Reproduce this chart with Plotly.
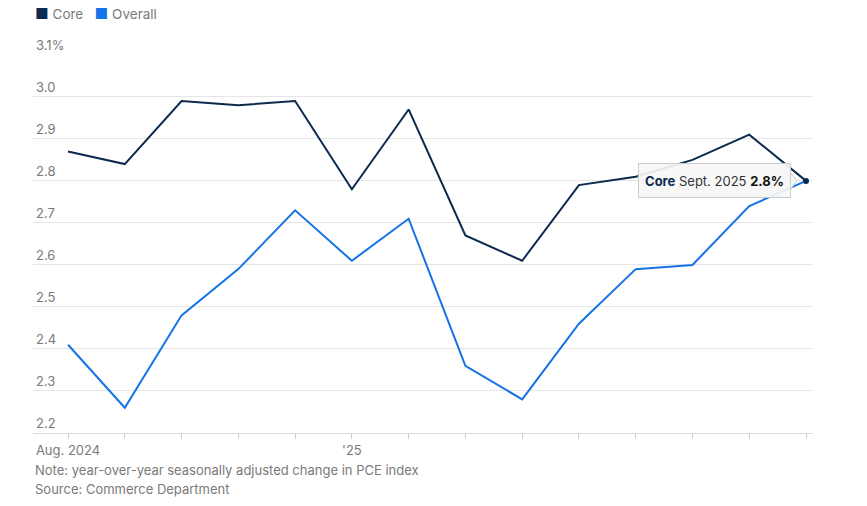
import plotly.graph_objects as go

months = ["Aug. 2024", "Sept. 2024", "Oct. 2024", "Nov. 2024", "Dec. 2024", "Jan. 2025", "Feb. 2025",
          "Mar. 2025", "Apr. 2025", "May 2025", "June 2025", "July 2025", "Aug. 2025", "Sept. 2025"]
core = [2.87, 2.84, 2.99, 2.98, 2.99, 2.78, 2.97, 2.67, 2.61, 2.79, 2.81, 2.85, 2.91, 2.80]
overall = [2.41, 2.26, 2.48, 2.59, 2.73, 2.61, 2.71, 2.36, 2.28, 2.46, 2.59, 2.60, 2.74, 2.80]
x_tick_labels = ["Aug. 2024", "", "", "", "", "'25", "", "", "", "", "", "", "", ""]
y_ticks = [2.2, 2.3, 2.4, 2.5, 2.6, 2.7, 2.8, 2.9, 3.0, 3.1]
y_tick_labels = ["2.2", "2.3", "2.4", "2.5", "2.6", "2.7", "2.8", "2.9", "3.0", "3.1%"]

CORE_C = "#0b2a4e"
OVER_C = "#1473e6"
GRAY = "#7a7a7a"
FONT = "Inter"

xs = list(range(len(months)))
fig = go.Figure()
fig.add_trace(go.Scatter(x=xs, y=overall, mode="lines", name="Overall",
                         line=dict(color=OVER_C, width=2), customdata=months,
                         hovertemplate="Overall %{customdata} %{y}%<extra></extra>"))
fig.add_trace(go.Scatter(x=xs, y=core, mode="lines", name="Core",
                         line=dict(color=CORE_C, width=2), customdata=months,
                         hovertemplate="Core %{customdata} %{y}%<extra></extra>"))
fig.add_trace(go.Scatter(x=[xs[-1]], y=[core[-1]], mode="markers", showlegend=False,
                         marker=dict(color=CORE_C, size=6), hoverinfo="skip"))

fig.update_layout(
    width=867, height=506,
    margin=dict(l=33, r=54, t=54, b=73),
    paper_bgcolor="white", plot_bgcolor="white",
    showlegend=False,
    font=dict(family=FONT, size=13, color=GRAY),
    xaxis=dict(range=[-0.617, 13.123], tickmode="array", tickvals=xs, ticktext=x_tick_labels,
               showgrid=False, zeroline=False, showline=True, linecolor="#dddddd", linewidth=1,
               ticks="outside", ticklen=5, tickcolor="#cccccc", tickfont=dict(size=13, color=GRAY),
               fixedrange=True),
    yaxis=dict(range=[2.2, 3.102], tickmode="array", tickvals=y_ticks, ticktext=y_tick_labels,
               showgrid=True, gridcolor="#e6e6e6", gridwidth=1, zeroline=False, showline=False,
               ticklabelposition="inside top", ticklabeloverflow="allow",
               tickfont=dict(size=13, color=GRAY), fixedrange=True),
)

# legend
fig.add_annotation(xref="paper", yref="paper", x=0, y=1, yshift=41, xanchor="left", yanchor="middle",
                   showarrow=False, align="left",
                   text=(f'<span style="color:{CORE_C};font-size:15px">■</span> Core   '
                         f'<span style="color:{OVER_C};font-size:15px">■</span> Overall'),
                   font=dict(size=13.5, color=GRAY, family=FONT))
# footnotes
fig.add_annotation(xref="paper", yref="paper", x=0, y=0, yshift=-37, xanchor="left", yanchor="middle",
                   showarrow=False, align="left",
                   text="Note: year-over-year seasonally adjusted change in PCE index",
                   font=dict(size=13, color=GRAY, family=FONT))
fig.add_annotation(xref="paper", yref="paper", x=0, y=0, yshift=-56, xanchor="left", yanchor="middle",
                   showarrow=False, align="left",
                   text="Source: Commerce Department",
                   font=dict(size=13, color=GRAY, family=FONT))
# tooltip pointer
fig.add_shape(type="path", xref="x", yref="y", xsizemode="pixel", ysizemode="pixel",
              xanchor=xs[-1], yanchor=core[-1],
              path="M -16 -9 L -9 0 L -16 9 Z",
              fillcolor="rgba(246,246,246,1)", line=dict(color="#cccccc", width=1))
# tooltip
fig.add_annotation(x=xs[-1], y=core[-1], xanchor="right", yanchor="middle", xshift=-15,
                   showarrow=False, width=143, height=25, align="center",
                   text=f'<b><span style="color:{CORE_C}">Core</span></b> <span style="color:#333333">Sept. 2025</span> <b><span style="color:#111111">2.8%</span></b>',
                   font=dict(size=13, family=FONT),
                   bgcolor="rgba(246,246,246,0.92)", bordercolor="#cccccc", borderwidth=1, borderpad=4)

fig.write_html("out.html")
